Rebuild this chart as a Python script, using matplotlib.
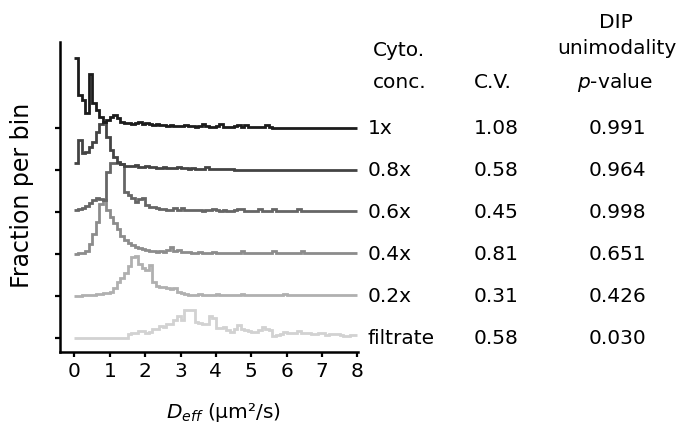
import numpy as np
import matplotlib
matplotlib.use("Agg")
import matplotlib.pyplot as plt
from matplotlib.transforms import blended_transform_factory

plt.rcParams['font.family'] = ['DejaVu Sans']
plt.rcParams['mathtext.fontset'] = 'dejavusans'

# ---------------- data ----------------
bin_width = 0.1
n_bins = 80
conc_labels = ["1x", "0.8x", "0.6x", "0.4x", "0.2x", "filtrate"]
cv_values = ["1.08", "0.58", "0.45", "0.81", "0.31", "0.58"]
dip_pvalues = ["0.991", "0.964", "0.998", "0.651", "0.426", "0.030"]
x_ticks = [0, 1, 2, 3, 4, 5, 6, 7, 8]

# fraction per bin (arbitrary units)
frac_1x = [70, 33, 28, 15, 54, 25, 18, 11, 6, 8, 11, 13, 10, 6, 5, 5, 4, 5, 6, 4,
           5, 4, 3, 4, 3, 3, 2, 3, 2, 2, 2, 3, 2, 2, 1, 2, 4, 2, 1, 1,
           2, 4, 1, 1, 1, 2, 3, 1, 3, 1, 1, 1, 1, 1, 3, 1, 0, 0, 0, 0,
           0, 0, 0, 0, 0, 0, 0, 0, 0, 0, 0, 0, 0, 0, 0, 0, 0, 0, 0, 0]
frac_08x = [7, 30, 17, 18, 23, 28, 38, 46, 48, 33, 20, 13, 8, 6, 4, 4, 4, 5, 3, 3,
            4, 3, 3, 2, 2, 3, 2, 2, 2, 3, 2, 2, 1, 2, 1, 1, 1, 3, 1, 1,
            1, 1, 1, 1, 1, 0, 0, 0, 0, 0, 0, 0, 0, 0, 0, 0, 0, 0, 0, 0,
            0, 0, 0, 0, 0, 0, 0, 0, 0, 0, 0, 0, 0, 0, 0, 0, 0, 0, 0, 0]
frac_06x = [2, 3, 4, 6, 9, 12, 14, 13, 12, 40, 49, 49, 49, 48, 20, 17, 14, 10, 13, 14,
            7, 5, 5, 4, 3, 3, 2, 2, 4, 2, 4, 2, 2, 2, 2, 2, 1, 2, 2, 3,
            2, 1, 2, 1, 1, 2, 3, 3, 1, 1, 1, 1, 3, 1, 1, 1, 3, 1, 1, 1,
            1, 1, 1, 3, 1, 1, 1, 1, 1, 1, 1, 1, 1, 1, 1, 1, 1, 1, 1, 1]
frac_04x = [0, 1, 1, 3, 10, 20, 32, 50, 54, 44, 37, 31, 25, 18, 14, 11, 9, 7, 6, 5,
            4, 3, 3, 2, 3, 2, 4, 7, 3, 4, 2, 2, 2, 1, 1, 2, 1, 1, 1, 2,
            1, 1, 1, 1, 1, 1, 1, 3, 1, 1, 1, 1, 1, 1, 1, 1, 3, 1, 1, 1,
            1, 1, 1, 1, 3, 1, 1, 1, 1, 1, 1, 1, 1, 1, 1, 1, 1, 1, 1, 1]
frac_02x = [0, 0, 1, 1, 1, 1, 2, 2, 3, 3, 4, 8, 14, 18, 23, 30, 39, 40, 32, 28,
            26, 31, 14, 10, 9, 9, 8, 7, 8, 4, 3, 2, 1, 1, 1, 2, 1, 1, 1, 1,
            2, 1, 1, 1, 1, 1, 1, 2, 1, 1, 1, 1, 1, 1, 1, 1, 1, 1, 1, 2,
            1, 1, 1, 1, 1, 1, 1, 1, 1, 1, 1, 1, 1, 1, 1, 1, 1, 1, 1, 1]
frac_filtrate = [0, 0, 0, 0, 0, 0, 0, 0, 0, 0, 0, 0, 0, 0, 0, 4, 5, 5, 7, 7,
                 5, 6, 9, 9, 12, 11, 14, 14, 18, 22, 18, 28, 28, 28, 16, 15, 14, 14, 22, 20,
                 10, 10, 11, 8, 6, 9, 13, 9, 8, 7, 6, 6, 8, 11, 9, 8, 2, 3, 4, 6,
                 5, 5, 5, 7, 5, 5, 5, 4, 4, 5, 5, 3, 4, 4, 4, 3, 2, 2, 3, 3]

series = [frac_1x, frac_08x, frac_06x, frac_04x, frac_02x, frac_filtrate]
colors = ["#1c1c1c", "#444444", "#666666", "#8c8c8c", "#b0b0b0", "#d2d2d2"]
spacing = 42

# ---------------- figure ----------------
W, H = 686, 436
FS = 14.5
fig = plt.figure(figsize=(W / 100, H / 100), dpi=100)
ax = fig.add_axes([60 / W, 1 - 352 / H, (358 - 60) / W, (352 - 42) / H])

edges = np.arange(n_bins + 1) * bin_width
n = len(series)
baselines = [(n - 1 - i) * spacing for i in range(n)]
for i in reversed(range(n)):
    vals = np.asarray(series[i], dtype=float)
    ax.stairs(vals + baselines[i], edges, baseline=None,
              color=colors[i], linewidth=2.0)

ax.set_xlim(-0.41, 8.02)
ax.set_ylim(-14, 296)
ax.set_xticks(x_ticks)
ax.set_xticklabels([str(t) for t in x_ticks], fontsize=FS)
ax.set_yticks(baselines)
ax.set_yticklabels([])
for s in ["top", "right"]:
    ax.spines[s].set_visible(False)
for s in ["left", "bottom"]:
    ax.spines[s].set_linewidth(1.8)
ax.tick_params(axis='both', direction='out', length=3.5, width=1.6, color='black')
ax.tick_params(axis='x', pad=4)

fig.text(22 / W, 1 - 195 / H, "Fraction per bin", rotation=90,
         ha='center', va='center', fontsize=17)
fig.text(223 / W, 1 - 412 / H, r"$D_{eff}$ (μm²/s)", ha='center', va='center', fontsize=FS)

# table on the right
tr = blended_transform_factory(fig.transFigure, ax.transData)
for i in range(n):
    y = baselines[i]
    ax.text(368 / W, y, conc_labels[i], transform=tr, ha='left', va='center', fontsize=FS)
    ax.text(474 / W, y, cv_values[i], transform=tr, ha='left', va='center', fontsize=FS)
    ax.text(617 / W, y, dip_pvalues[i], transform=tr, ha='center', va='center', fontsize=FS)

fig.text(373 / W, 1 - 50 / H, "Cyto.", ha='left', va='center', fontsize=FS)
fig.text(373 / W, 1 - 83 / H, "conc.", ha='left', va='center', fontsize=FS)
fig.text(474 / W, 1 - 83 / H, "C.V.", ha='left', va='center', fontsize=FS)
fig.text(616 / W, 1 - 22 / H, "DIP", ha='center', va='center', fontsize=FS)
fig.text(617 / W, 1 - 49 / H, "unimodality", ha='center', va='center', fontsize=FS)
fig.text(615 / W, 1 - 83 / H, r"$p$-value", ha='center', va='center', fontsize=FS)

fig.savefig("out.png", dpi=100)
